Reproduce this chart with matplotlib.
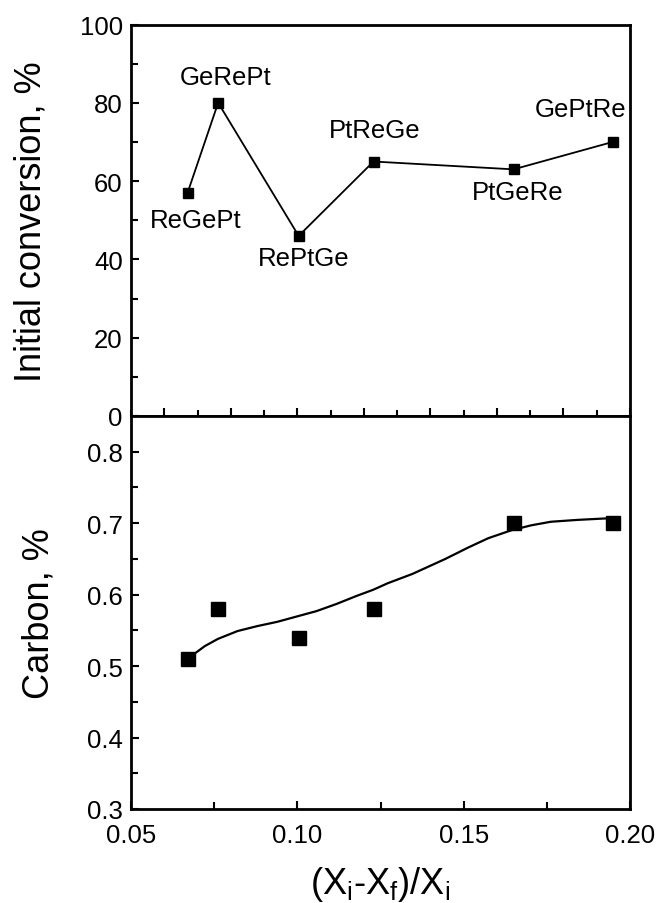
import matplotlib
matplotlib.use("Agg")
import matplotlib.pyplot as plt
from matplotlib.ticker import MultipleLocator, NullFormatter

plt.rcParams['font.family'] = ['Liberation Sans', 'DejaVu Sans']
plt.rcParams['mathtext.fontset'] = 'custom'
plt.rcParams['mathtext.rm'] = 'Liberation Sans'
plt.rcParams['mathtext.it'] = 'Liberation Sans'
plt.rcParams['mathtext.default'] = 'regular'

# ---- data ----
x_frac = [0.067, 0.0762, 0.1004, 0.1229, 0.165, 0.1948]
catalysts = ["ReGePt", "GeRePt", "RePtGe", "PtReGe", "PtGeRe", "GePtRe"]
conversion = [57, 80, 46, 65, 63, 70]
carbon = [0.51, 0.58, 0.54, 0.58, 0.70, 0.70]
label_x = [0.0694, 0.0783, 0.1018, 0.1234, 0.1662, 0.1850]
label_y = [50.1, 86.7, 40.3, 73.0, 57.1, 78.5]
curve_x = [0.0687, 0.0722, 0.0761, 0.082, 0.088, 0.094, 0.1003, 0.1058,
           0.1118, 0.1177, 0.1229, 0.1272, 0.1346, 0.1445, 0.1514, 0.1574,
           0.1643, 0.1703, 0.1762, 0.1842, 0.1921, 0.1948]
curve_y = [0.516, 0.528, 0.538, 0.549, 0.556, 0.562, 0.570, 0.577,
           0.587, 0.598, 0.607, 0.616, 0.629, 0.650, 0.666, 0.679,
           0.690, 0.697, 0.702, 0.7046, 0.7065, 0.707]
x_ticks = [0.05, 0.10, 0.15, 0.20]
x_ticklabels = ["0.05", "0.10", "0.15", "0.20"]

W, H = 658, 904
fig = plt.figure(figsize=(W / 100, H / 100), dpi=100)
left, right = 131 / W, 630 / W
top_y, mid_y, bot_y = 25.5 / H, 417 / H, 810 / H
ax1 = fig.add_axes([left, 1 - mid_y, right - left, mid_y - top_y])
ax2 = fig.add_axes([left, 1 - bot_y, right - left, bot_y - mid_y])

for ax in (ax1, ax2):
    for s in ax.spines.values():
        s.set_linewidth(2.0)
    ax.set_xlim(0.05, 0.20)

# top panel
ax1.plot(x_frac, conversion, color='black', lw=1.3, marker='s', ms=7,
         mfc='black', mec='black')
for lx, ly, t in zip(label_x, label_y, catalysts):
    ax1.text(lx, ly, t, ha='center', va='center', fontsize=18.5)
ax1.set_ylim(0, 100)
ax1.yaxis.set_major_locator(MultipleLocator(20))
ax1.yaxis.set_minor_locator(MultipleLocator(10))
ax1.xaxis.set_major_locator(MultipleLocator(0.02))
ax1.xaxis.set_minor_locator(MultipleLocator(0.01))
ax1.xaxis.set_major_formatter(NullFormatter())
ax1.tick_params(axis='both', which='both', direction='in', top=False, right=False)
ax1.tick_params(axis='x', which='major', length=6, width=1.5)
ax1.tick_params(axis='x', which='minor', length=4, width=1.5)
ax1.tick_params(axis='y', which='major', length=6, width=1.5, labelsize=18.5, pad=6)
ax1.tick_params(axis='y', which='minor', length=5, width=1.5)
ax1.set_ylabel("Initial conversion, %", fontsize=26, labelpad=22)

# bottom panel
ax2.plot(curve_x, curve_y, color='black', lw=1.6)
ax2.plot(x_frac, carbon, ls='none', marker='s', ms=9.5, mfc='black', mec='black')
ax2.set_ylim(0.3, 0.85)
ax2.set_xticks(x_ticks)
ax2.set_xticklabels(x_ticklabels)
ax2.xaxis.set_minor_locator(MultipleLocator(0.025))
ax2.yaxis.set_major_locator(MultipleLocator(0.1))
ax2.yaxis.set_minor_locator(MultipleLocator(0.05))
ax2.tick_params(axis='both', which='both', direction='in', top=False, right=False)
ax2.tick_params(axis='y', which='major', length=6, width=1.5, labelsize=18.5, pad=6)
ax2.tick_params(axis='x', which='major', length=6, width=1.5, labelsize=18.5, pad=10)
ax2.tick_params(axis='both', which='minor', length=5, width=1.5)
ax2.set_ylabel("Carbon, %", fontsize=26, labelpad=22)
ax2.set_xlabel("(X$_i$-X$_f$)/X$_i$", fontsize=26, labelpad=12)

fig.align_ylabels([ax1, ax2])
fig.savefig("out.png", dpi=100)
